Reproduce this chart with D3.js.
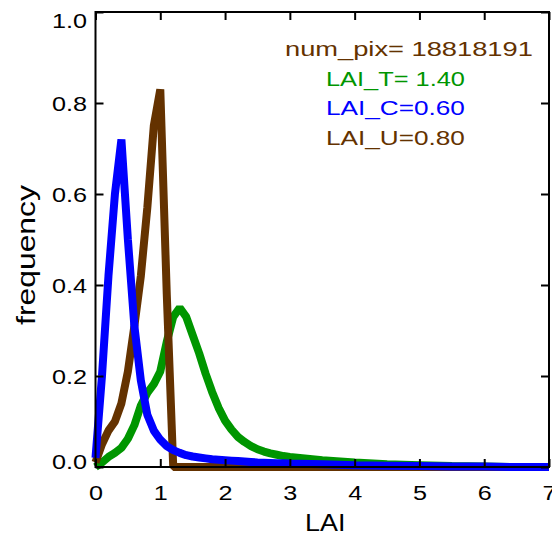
<!DOCTYPE html>
<html>
<head>
<meta charset="utf-8">
<script src="https://cdn.jsdelivr.net/npm/d3@7"></script>
<style>
  body { margin: 0; background: #fff; }
  svg { display: block; }
  text { font-family: "Liberation Sans", Arial, sans-serif; }
</style>
</head>
<body>
<script>
// LAI bin values
const lai = [0, 0.1, 0.2, 0.3, 0.4, 0.5, 0.6, 0.7, 0.8, 0.9,
             1.0, 1.1, 1.2, 1.3, 1.4, 1.5, 1.6, 1.7, 1.8, 1.9,
             2.0, 2.1, 2.2, 2.3, 2.4, 2.5, 2.6, 2.7, 2.8, 2.9,
             3.0, 3.5, 4.0, 4.5, 5.0, 5.5, 6.0, 6.5, 7.0]

// frequency for each layer
const freqT = [0.0, 0.01, 0.022, 0.031, 0.042, 0.062, 0.092, 0.135, 0.163, 0.182,
               0.21, 0.275, 0.33, 0.35, 0.33, 0.29, 0.25, 0.205, 0.165, 0.13,
               0.102, 0.082, 0.066, 0.055, 0.046, 0.039, 0.034, 0.030, 0.027, 0.024,
               0.022, 0.015, 0.010, 0.006, 0.004, 0.002, 0.001, 0.0, 0.0]
const freqU = [0.01, 0.05, 0.08, 0.10, 0.14, 0.21, 0.31, 0.42, 0.57, 0.75,
               0.83, 0.38, 0.0, 0.0, 0.0, 0.0, 0.0, 0.0, 0.0, 0.0,
               0.0, 0.0, 0.0, 0.0, 0.0, 0.0, 0.0, 0.0, 0.0, 0.0,
               0.0, 0.0, 0.0, 0.0, 0.0, 0.0, 0.0, 0.0, 0.0]
const freqC = [0.02, 0.20, 0.42, 0.60, 0.72, 0.50, 0.31, 0.19, 0.115, 0.08,
               0.06, 0.046, 0.037, 0.031, 0.026, 0.023, 0.021, 0.019, 0.017, 0.016,
               0.015, 0.014, 0.013, 0.012, 0.011, 0.010, 0.0095, 0.009, 0.0085, 0.008,
               0.0075, 0.006, 0.004, 0.003, 0.002, 0.001, 0.001, 0.0, 0.0]

const xTicks = [0, 1, 2, 3, 4, 5, 6, 7]
const yTicks = [0, 0.2, 0.4, 0.6, 0.8, 1.0]

const legendLines = ["num_pix= 18818191", "LAI_T= 1.40", "LAI_C=0.60", "LAI_U=0.80"]

const brown = "#643200", green = "#009600", blue = "#0000ff"

const W = 552, H = 537
const margin = { top: 12, right: 3, bottom: 70, left: 95.5 }
const width = W - margin.left - margin.right,
      height = H - margin.top - margin.bottom

// the original font is wide and thin, so stretch glyphs sideways
const sx = 1.2

const svg = d3.select("body").append("svg")
    .attr("width", W)
    .attr("height", H)

const g = svg.append("g")
    .attr("transform", "translate(" + margin.left + "," + margin.top + ")")

const x = d3.scaleLinear().domain([0, 7]).range([0, width])
const y = d3.scaleLinear().domain([0, 1]).range([height, 0])

let line = d3.line()
    .x((d, i) => x(lai[i]))
    .y(d => y(d))

// series: green first, brown, then blue on top
const series = [
    { vals: freqT, color: green },
    { vals: freqU, color: brown },
    { vals: freqC, color: blue }
]
g.selectAll(".series")
    .data(series)
    .enter()
    .append("path")
        .attr("class", "series")
        .attr("fill", "none")
        .attr("stroke", d => d.color)
        .attr("stroke-width", 8)
        .attr("stroke-linejoin", "bevel")
        .attr("d", d => line(d.vals))

// frame
g.append("rect")
    .attr("width", width)
    .attr("height", height)
    .attr("fill", "none")
    .attr("stroke", "#000")
    .attr("stroke-width", 2)

function styleAxis(sel) {
    sel.select(".domain").remove()
    sel.selectAll(".tick line").attr("stroke", "#000").attr("stroke-width", 2)
    sel.selectAll(".tick text")
        .attr("fill", "#000")
        .style("font-size", "21px")
}

const xAxis = g.append("g")
    .attr("transform", "translate(0," + height + ")")
    .call(d3.axisBottom(x).tickValues(xTicks).tickFormat(d3.format("d"))
        .tickSize(-8).tickPadding(18))
styleAxis(xAxis)
xAxis.selectAll(".tick text")
    .attr("transform", "scale(" + sx + ",1)")

g.append("g")
    .call(d3.axisTop(x).tickValues(xTicks).tickSize(-8).tickFormat(""))
    .call(styleAxis)

const yAxis = g.append("g")
    .call(d3.axisLeft(y).tickValues(yTicks).tickFormat(d3.format(".1f"))
        .tickSize(-8).tickPadding(8))
styleAxis(yAxis)
yAxis.selectAll(".tick text")
    .attr("x", -8.5 / sx)
    .attr("transform", "scale(" + sx + ",1)")
    .attr("dy", d => d === 1 ? "0.72em" : (d === 0 ? "0.05em" : "0.35em"))

g.append("g")
    .attr("transform", "translate(" + width + ",0)")
    .call(d3.axisRight(y).tickValues(yTicks).tickSize(-8).tickFormat(""))
    .call(styleAxis)

// axis titles
svg.append("text")
    .attr("transform", "translate(" + (margin.left + width / 2 + 3) + ",531) scale(1.12,1)")
    .attr("text-anchor", "middle")
    .style("font-size", "24px")
    .text("LAI")

const ylab = svg.append("text")
    .attr("text-anchor", "middle")
    .style("font-size", "25px")
    .text("frequency")
const ysx = 140 / ylab.node().getComputedTextLength()
ylab.attr("transform", "translate(35,255) rotate(-90) scale(" + ysx + ",1)")

// legend text, stretched to the widths seen in the original
const legendColors = [brown, green, blue, brown]
const legendX = [285, 326, 326, 326]
const legendW = [248, 139, 139, 139]
svg.selectAll(".legend")
    .data(legendLines)
    .enter()
    .append("text")
        .attr("class", "legend")
        .attr("fill", (d, i) => legendColors[i])
        .style("font-size", "21px")
        .text(d => d)
        .attr("transform", function(d, i) {
            const k = legendW[i] / this.getComputedTextLength()
            return "translate(" + legendX[i] + "," + (56 + i * 29.7) + ") scale(" + k + ",1)"
        })
</script>
</body>
</html>
